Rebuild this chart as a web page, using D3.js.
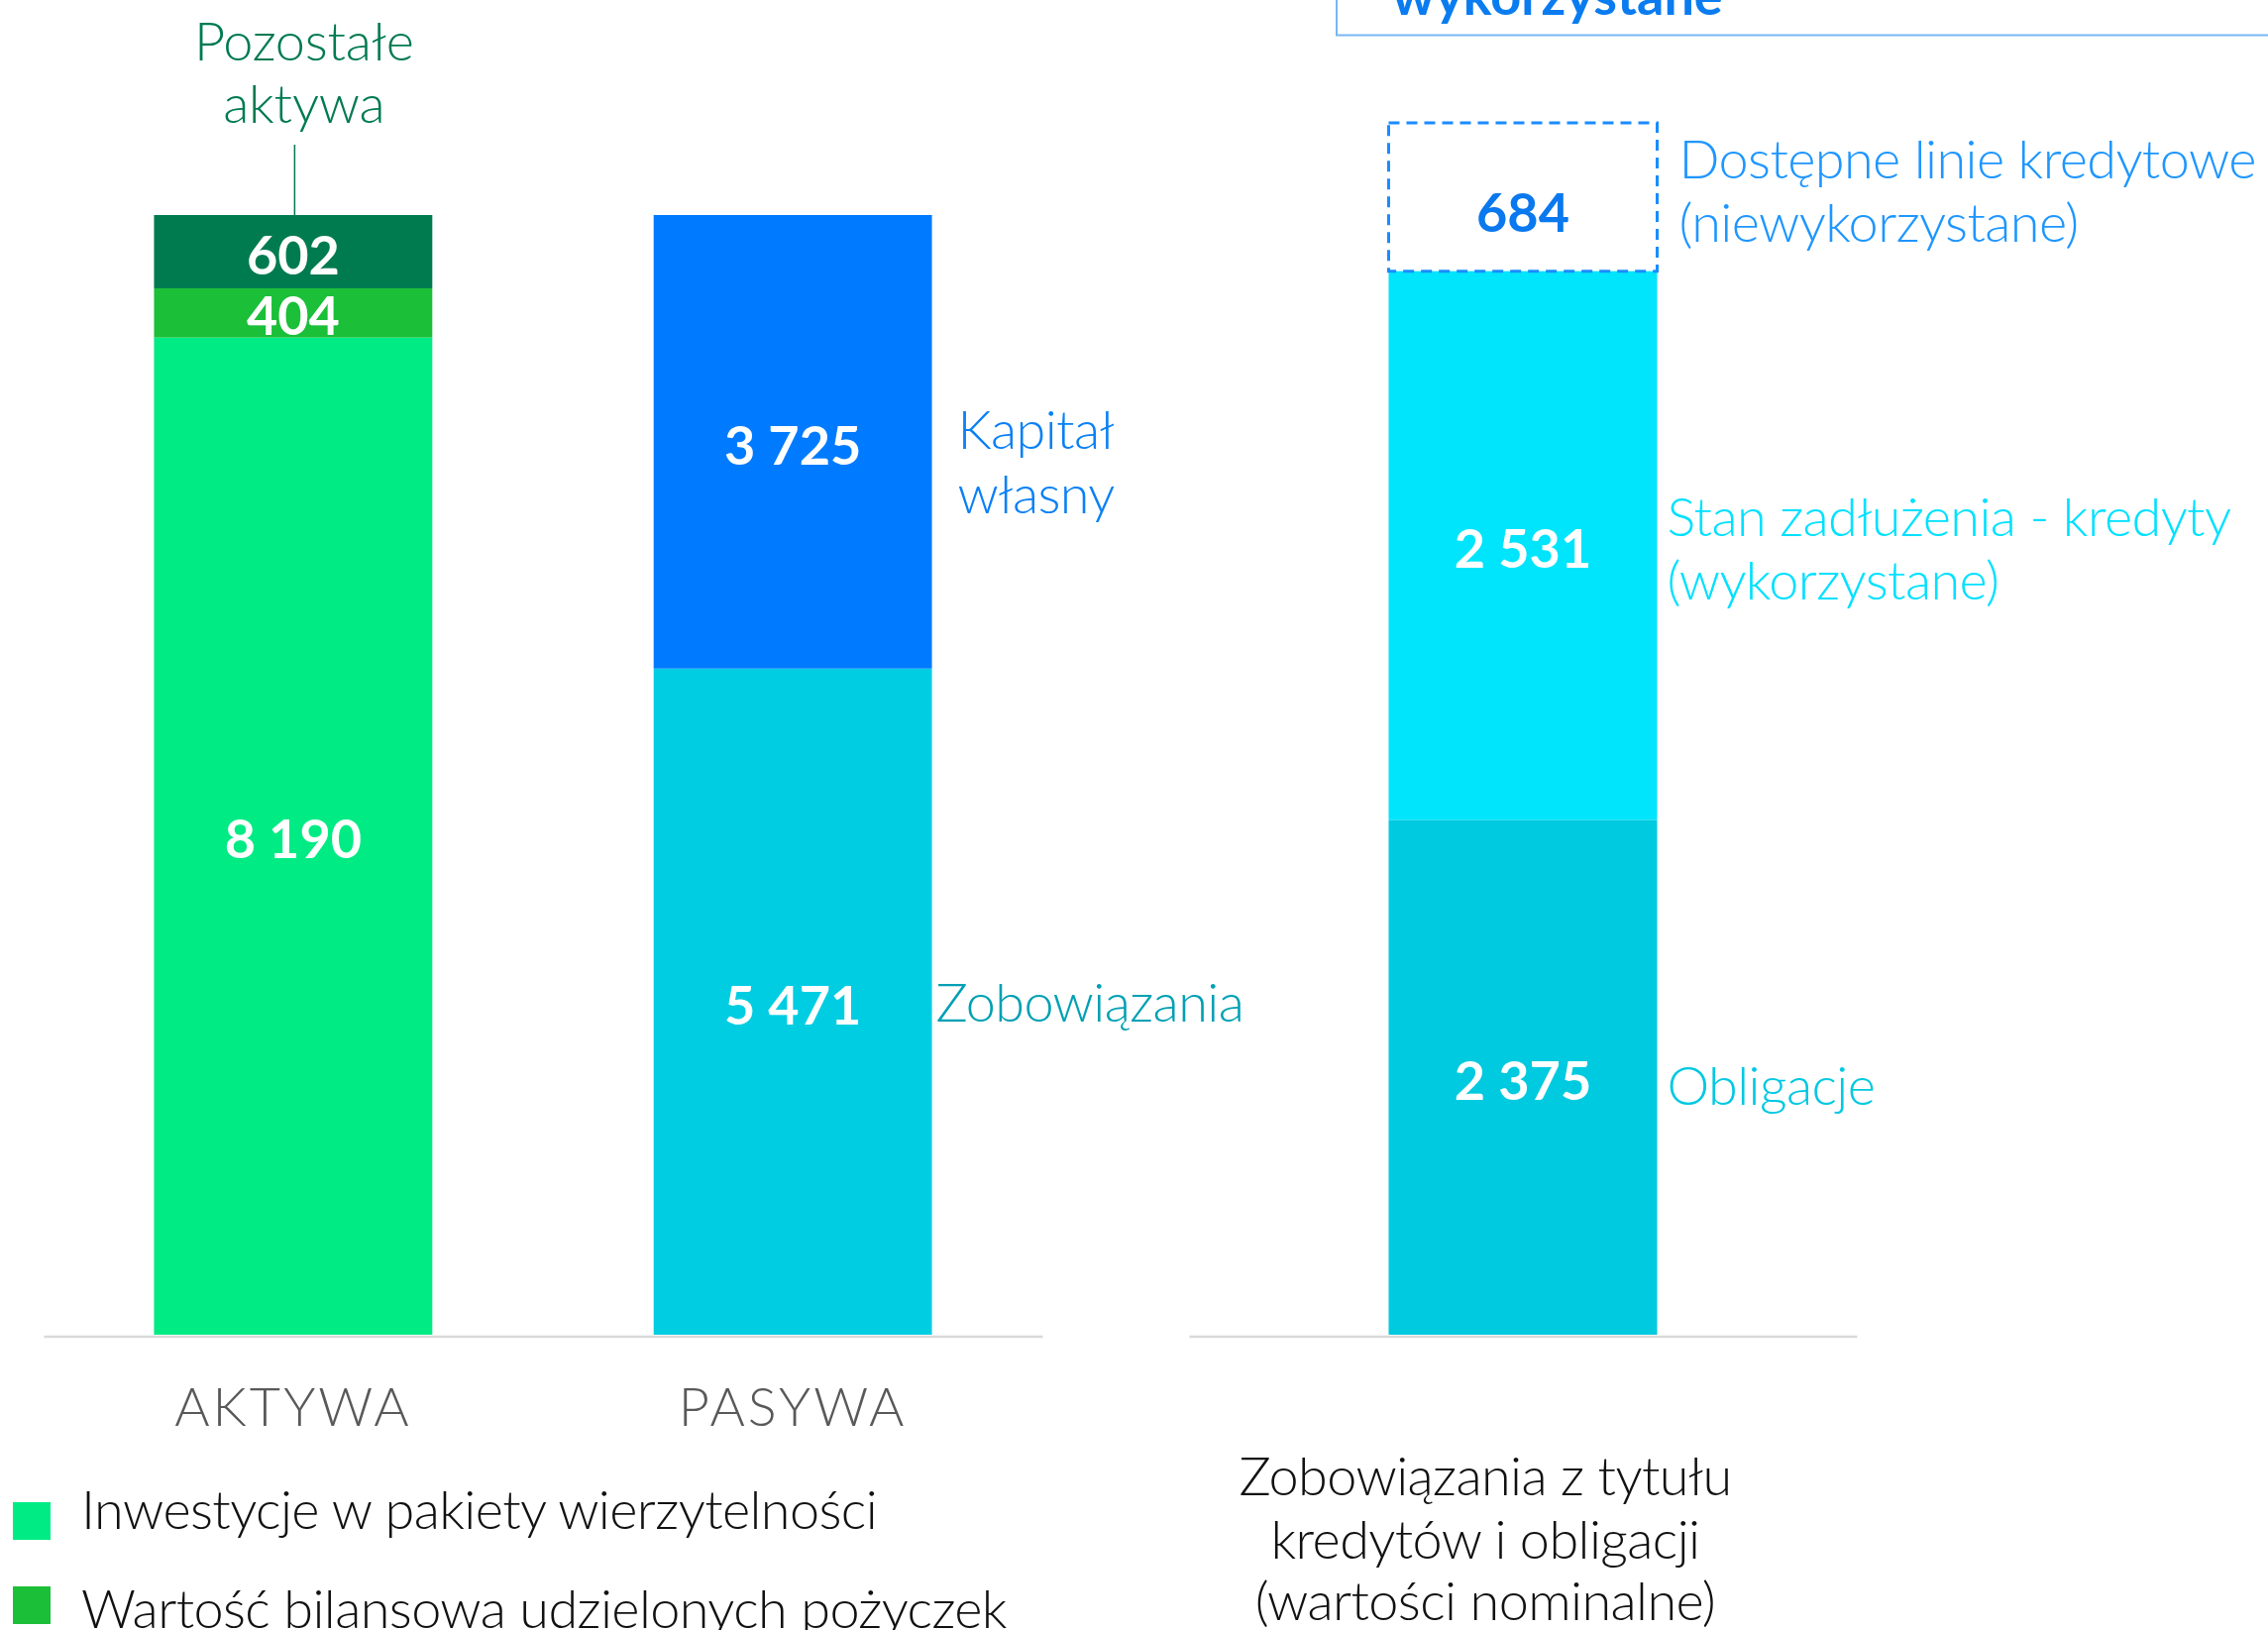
<!DOCTYPE html>
<html>
<head>
<meta charset="utf-8">
<script src="https://cdn.jsdelivr.net/npm/d3@7"></script>
<style>
  html, body { margin: 0; padding: 0; background: #ffffff; }
  svg { display: block; }
  text { font-family: "Lato", "Open Sans", sans-serif; }
</style>
</head>
<body>
<svg id="chart" width="2289" height="1645"></svg>
<script>
// ---------------- DATA ----------------
const categories = ["AKTYWA", "PASYWA"];

const aktywaSeries = ["Inwestycje w pakiety wierzytelności", "Wartość bilansowa udzielonych pożyczek", "Pozostałe aktywa"];
const aktywaValues = [8190, 404, 602];

const pasywaSeries = ["Zobowiązania", "Kapitał własny"];
const pasywaValues = [5471, 3725];

const debtCategory = ["Zobowiązania z tytułu kredytów i obligacji"];
const debtSeries = ["Obligacje", "Stan zadłużenia - kredyty (wykorzystane)", "Dostępne linie kredytowe (niewykorzystane)"];
const debtValues = [2375, 2531, 684];

const legendLabels = ["Inwestycje w pakiety wierzytelności", "Wartość bilansowa udzielonych pożyczek"];
const debtTitleLines = ["Zobowiązania z tytułu", "kredytów i obligacji", "(wartości nominalne)"];
const topBoxText = "wykorzystane";

// ---------------- STYLE ----------------
const aktywaColors = ["#00EB84", "#1BBF38", "#007B50"];
const pasywaColors = ["#00CDE2", "#007BFF"];
const debtColors = ["#00CADF", "#00E4FC", "none"];

const svg = d3.select("#chart");
const fmt = d3.formatLocale({ decimal: ",", thousands: " ", grouping: [3], currency: ["", ""] }).format(",d");

const baseY = 1347;
const FS = 54;
const LS = -0.6;

// ---------------- LEFT CHART ----------------
const x1 = d3.scaleBand().domain(categories).range([44, 1052]).paddingInner(0.443).paddingOuter(0.221);
const totalLeft = d3.sum(aktywaValues);
const y1 = d3.scaleLinear().domain([0, totalLeft]).range([baseY, 217]);

function stackOf(values) {
  let acc = 0;
  return values.map(v => { const s = { y0: acc, y1: acc + v, v }; acc += v; return s; });
}

const leftGroups = [
  { cat: "AKTYWA", stack: stackOf(aktywaValues), colors: aktywaColors },
  { cat: "PASYWA", stack: stackOf(pasywaValues), colors: pasywaColors }
];

leftGroups.forEach(g => {
  const gx = x1(g.cat), bw = x1.bandwidth();
  const grp = svg.append("g");
  grp.selectAll("rect").data(g.stack).join("rect")
    .attr("x", gx).attr("width", bw)
    .attr("y", d => y1(d.y1)).attr("height", d => y1(d.y0) - y1(d.y1))
    .attr("fill", (d, i) => g.colors[i]);
  grp.selectAll("text").data(g.stack).join("text")
    .attr("x", gx + bw / 2)
    .attr("y", d => (y1(d.y0) + y1(d.y1)) / 2)
    .attr("dy", "0.42em")
    .attr("text-anchor", "middle")
    .attr("fill", "#ffffff")
    .attr("font-size", FS).attr("font-weight", 700)
    .text(d => fmt(d.v));
});

// axis
const axis1 = svg.append("g").attr("transform", `translate(0,${baseY + 1.5})`)
  .call(d3.axisBottom(x1).tickSize(0).tickSizeOuter(0).tickPadding(52));
axis1.select(".domain").attr("stroke", "#d9d9d9").attr("stroke-width", 2.5);
axis1.selectAll(".tick text")
  .attr("font-family", "Lato").attr("font-size", FS).attr("font-weight", 300)
  .attr("fill", "#595959").attr("letter-spacing", 3);

// Pozostałe aktywa label + connector
const akx = x1("AKTYWA") + x1.bandwidth() / 2;
svg.append("line").attr("x1", akx + 1.5).attr("x2", akx + 1.5).attr("y1", 146).attr("y2", y1(totalLeft))
  .attr("stroke", "#007A50").attr("stroke-width", 1.5);
const poz = svg.append("text").attr("text-anchor", "middle").attr("fill", "#007A50")
  .attr("font-size", FS).attr("font-weight", 300).attr("letter-spacing", -0.2);
poz.append("tspan").attr("x", akx + 11).attr("y", 61).text("Pozostałe");
poz.append("tspan").attr("x", akx + 11).attr("y", 124).text("aktywa");

// PASYWA side labels
const pasRight = x1("PASYWA") + x1.bandwidth();
const kap = svg.append("text").attr("fill", "#0A80F5").attr("font-size", FS).attr("font-weight", 300).attr("letter-spacing", LS);
kap.append("tspan").attr("x", pasRight + 26).attr("y", 453).text("Kapitał");
kap.append("tspan").attr("x", pasRight + 26).attr("y", 518).text("własny");
svg.append("text").attr("x", pasRight + 4).attr("y", 1031).attr("letter-spacing", LS)
  .attr("fill", "#00A0B4").attr("font-size", FS).attr("font-weight", 300).text(pasywaSeries[0]);

// ---------------- RIGHT CHART ----------------
const x2 = d3.scaleBand().domain(debtCategory).range([1200, 1874]).paddingInner(0).paddingOuter(0.7435);
const totalDebt = d3.sum(debtValues);
const y2 = d3.scaleLinear().domain([0, totalDebt]).range([baseY, 124]);
const dStack = stackOf(debtValues);
const dx = x2(debtCategory[0]), dbw = x2.bandwidth();

svg.append("g").selectAll("rect").data(dStack.slice(0, 2)).join("rect")
  .attr("x", dx).attr("width", dbw)
  .attr("y", d => y2(d.y1)).attr("height", d => y2(d.y0) - y2(d.y1))
  .attr("fill", (d, i) => debtColors[i]);

const dashed = dStack[2];
svg.append("rect")
  .attr("x", dx).attr("width", dbw)
  .attr("y", y2(dashed.y1)).attr("height", y2(dashed.y0) - y2(dashed.y1))
  .attr("fill", "none").attr("stroke", "#1A8CFF").attr("stroke-width", 3)
  .attr("stroke-dasharray", "11,7");

svg.append("g").selectAll("text").data(dStack).join("text")
  .attr("x", dx + dbw / 2)
  .attr("y", (d, i) => (y2(d.y0) + y2(d.y1)) / 2 + (i === 2 ? 12 : 0))
  .attr("dy", "0.42em")
  .attr("text-anchor", "middle")
  .attr("fill", (d, i) => i === 2 ? "#0A78EE" : "#ffffff")
  .attr("font-size", FS).attr("font-weight", 700)
  .text(d => fmt(d.v));

const axis2 = svg.append("g").attr("transform", `translate(0,${baseY + 1.5})`)
  .call(d3.axisBottom(x2).tickSize(0).tickSizeOuter(0).tickFormat(""));
axis2.select(".domain").attr("stroke", "#d9d9d9").attr("stroke-width", 2.5);

const dRight = dx + dbw;
const lblX = dRight + 10;
svg.append("text").attr("x", lblX).attr("y", 1115).attr("letter-spacing", LS)
  .attr("fill", "#00C8E2").attr("font-size", FS).attr("font-weight", 300).text(debtSeries[0]);
const stan = svg.append("text").attr("fill", "#00E0FF").attr("font-size", FS).attr("font-weight", 300).attr("letter-spacing", LS);
stan.append("tspan").attr("x", lblX).attr("y", 541).text("Stan zadłużenia - kredyty");
stan.append("tspan").attr("x", lblX).attr("y", 605).text("(wykorzystane)");
const dost = svg.append("text").attr("fill", "#1E96FF").attr("font-size", FS).attr("font-weight", 300).attr("letter-spacing", LS);
dost.append("tspan").attr("x", dRight + 22).attr("y", 180).text("Dostępne linie kredytowe");
dost.append("tspan").attr("x", dRight + 22).attr("y", 244).text("(niewykorzystane)");

// title under right chart
const ttl = svg.append("text").attr("text-anchor", "middle").attr("fill", "#111111")
  .attr("font-size", FS).attr("font-weight", 300).attr("letter-spacing", LS);
const ttlY = [1509, 1573, 1635];
debtTitleLines.forEach((t, i) => ttl.append("tspan").attr("x", 1499).attr("y", ttlY[i]).text(t));

// top cut-off box
svg.append("rect").attr("x", 1349).attr("y", -20).attr("width", 1000).attr("height", 55.5)
  .attr("fill", "none").attr("stroke", "#78B6F5").attr("stroke-width", 2);
svg.append("text").attr("x", 1405).attr("y", 15).attr("fill", "#0A7CF0")
  .attr("font-size", FS).attr("font-weight", 700).text(topBoxText);

// ---------------- LEGEND ----------------
const legY = [1516, 1601];
const legTextY = [1543, 1643];
const leg = svg.append("g");
legendLabels.forEach((t, i) => {
  leg.append("rect").attr("x", 13).attr("y", legY[i]).attr("width", 38).attr("height", 38).attr("fill", aktywaColors[i]);
  leg.append("text").attr("x", 82).attr("y", legTextY[i]).attr("fill", "#111111").attr("letter-spacing", LS)
    .attr("font-size", FS).attr("font-weight", 300).text(t);
});
</script>
</body>
</html>
